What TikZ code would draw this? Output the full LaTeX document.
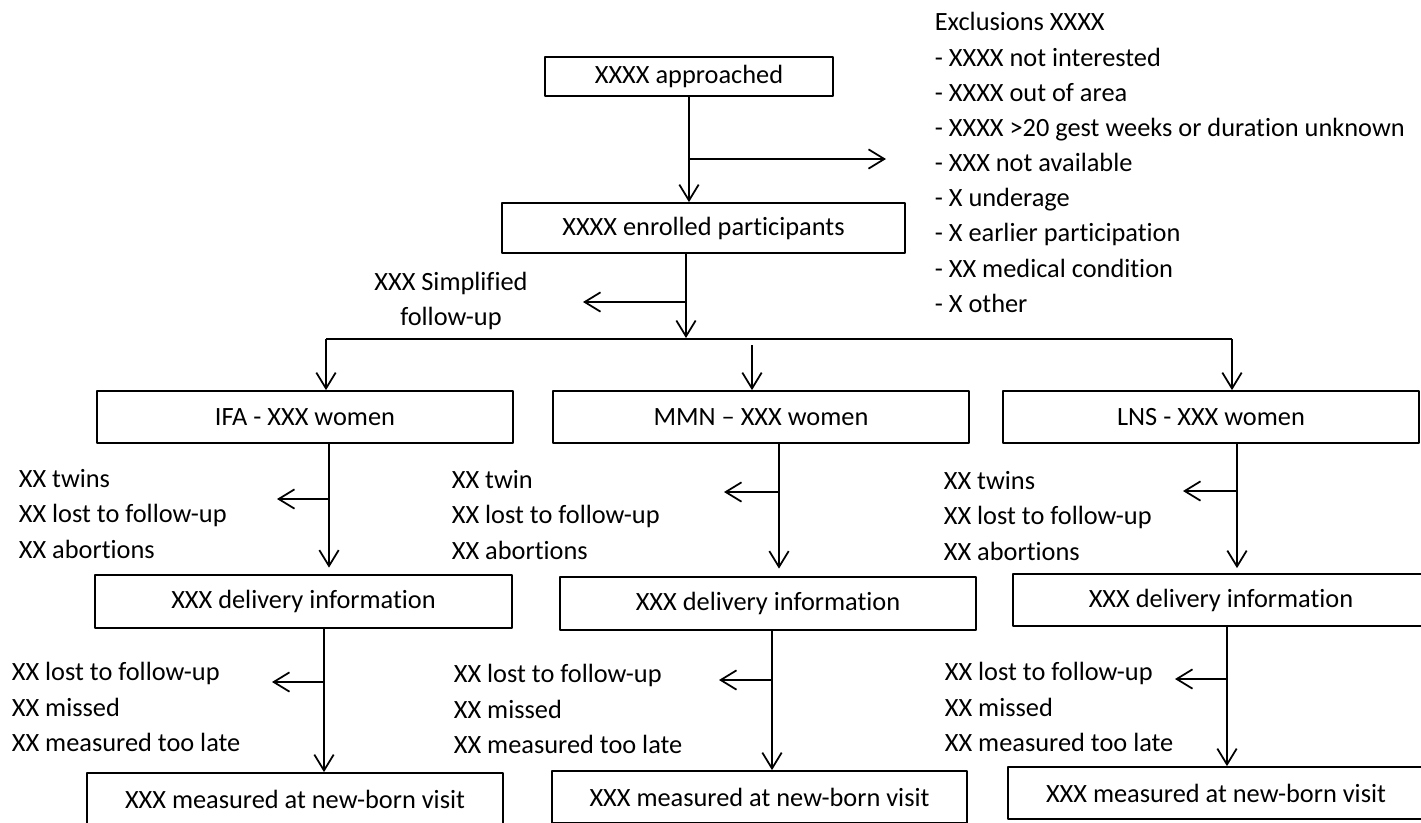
\documentclass[tikz,border=0pt]{standalone}
\usepackage{fontspec}
\setmainfont{Carlito}[Ligatures=NoCommon]
\usetikzlibrary{calc,arrows.meta,positioning}

\begin{document}
\begin{tikzpicture}[>={Straight Barb[length=9pt,width=11pt]},line width=1pt,line join=round,
    every node/.style={font=\fontsize{15}{20}\selectfont},
    box/.style={draw,inner sep=0,minimum width=8.32cm,minimum height=1.04cm},
    note/.style={align=left,anchor=west,inner sep=0}]
    \useasboundingbox (0,0) rectangle (28.42,-16.44);
    % top
    \node[box,minimum width=5.76cm,minimum height=0.78cm] (appr) at (13.78,-1.53){XXXX approached};
    \node[box,minimum width=8.06cm,minimum height=1.0cm] (enrol) at (14.07,-4.56){XXXX enrolled participants};
    \draw[->] (appr.south) -- (appr.south |- enrol.north);
    \coordinate (exclTip) at (17.72,-3.18);
    \draw[->] (exclTip -| appr.south) -- (exclTip);
    \node[note] (excl) at (18.68,-3.25){Exclusions XXXX\\- XXXX not interested\\- XXXX out of area\\- XXXX >20 gest weeks or duration unknown\\- XXX not available\\- X underage\\- X earlier participation\\- XX medical condition\\- X other};
    % split into the three arms
    \coordinate (hub) at (13.72,-6.76);
    \draw[->] (hub |- enrol.south) -- (hub);
    \coordinate (simpTip) at (11.66,-6.04);
    \draw[->] (simpTip -| hub) -- (simpTip);
    \node[align=center,inner sep=0] (simp) at (9.02,-6.02){XXX Simplified\\follow-up};
    \node[box] (ifa) at (6.10,-8.34){IFA - XXX women};
    \node[box] (mmn) at (15.22,-8.34){MMN -- XXX women};
    \node[box] (lns) at (24.22,-8.34){LNS - XXX women};
    \coordinate (brL) at (6.52,-6.78);
    \coordinate (brM) at (15.04,-6.90);
    \coordinate (brR) at (24.64,-6.78);
    \draw (brL) -- (brR);
    \draw[->] (brL) -- (brL |- ifa.north);
    \draw[->] (brM) -- (brM |- mmn.north);
    \draw[->] (brR) -- (brR |- lns.north);
    % delivery
    \node[box,minimum width=8.34cm,minimum height=1.06cm] (ifaD) at (6.07,-12.03){XXX delivery information};
    \node[box,minimum height=1.06cm] (mmnD) at (15.36,-12.07){XXX delivery information};
    \node[box] (lnsD) at (24.42,-12.0){XXX delivery information};
    \coordinate (ifaV) at (6.58,-9.98);  \coordinate (ifaOut) at (5.54,-9.98);
    \coordinate (mmnV) at (15.58,-9.84); \coordinate (mmnOut) at (14.48,-9.84);
    \coordinate (lnsV) at (24.74,-9.82); \coordinate (lnsOut) at (23.66,-9.82);
    \draw[->,shorten >=0.13cm] (ifaV |- ifa.south) -- (ifaV |- ifaD.north);
    \draw[->,shorten >=0.15cm] (mmnV |- mmn.south) -- (mmnV |- mmnD.north);
    \draw[->,shorten >=0.10cm] (lnsV |- lns.south) -- (lnsV |- lnsD.north);
    \draw[->] (ifaV) -- (ifaOut);
    \draw[->] (mmnV) -- (mmnOut);
    \draw[->] (lnsV) -- (lnsOut);
    \node[note] (ifaLoss) at (0.36,-10.28){XX twins\\XX lost to follow-up\\XX abortions};
    \node[note] (mmnLoss) at (9.02,-10.30){XX twin\\XX lost to follow-up\\XX abortions};
    \node[note] (lnsLoss) at (18.86,-10.32){XX twins\\XX lost to follow-up\\XX abortions};
    % new-born visit
    \node[box] (ifaM) at (5.90,-15.98){XXX measured at new-born visit};
    \node[box,minimum width=8.30cm] (mmnM) at (15.19,-15.94){XXX measured at new-born visit};
    \node[box] (lnsM) at (24.32,-15.86){XXX measured at new-born visit};
    \coordinate (ifaW) at (6.48,-13.64);  \coordinate (ifaMiss) at (5.44,-13.64);
    \coordinate (mmnW) at (15.44,-13.60); \coordinate (mmnMiss) at (14.38,-13.60);
    \coordinate (lnsW) at (24.54,-13.58); \coordinate (lnsMiss) at (23.50,-13.58);
    \draw[->] (ifaW |- ifaD.south) -- (ifaW |- ifaM.north);
    \draw[->] (mmnW |- mmnD.south) -- (mmnW |- mmnM.north);
    \draw[->] (lnsW |- lnsD.south) -- (lnsW |- lnsM.north);
    \draw[->] (ifaW) -- (ifaMiss);
    \draw[->] (mmnW) -- (mmnMiss);
    \draw[->] (lnsW) -- (lnsMiss);
    \node[note] (ifaLate) at (0.22,-14.14){XX lost to follow-up\\XX missed\\XX measured too late};
    \node[note] (mmnLate) at (9.06,-14.18){XX lost to follow-up\\XX missed\\XX measured too late};
    \node[note] (lnsLate) at (18.88,-14.14){XX lost to follow-up\\XX missed\\XX measured too late};
  \end{tikzpicture}
\end{document}
